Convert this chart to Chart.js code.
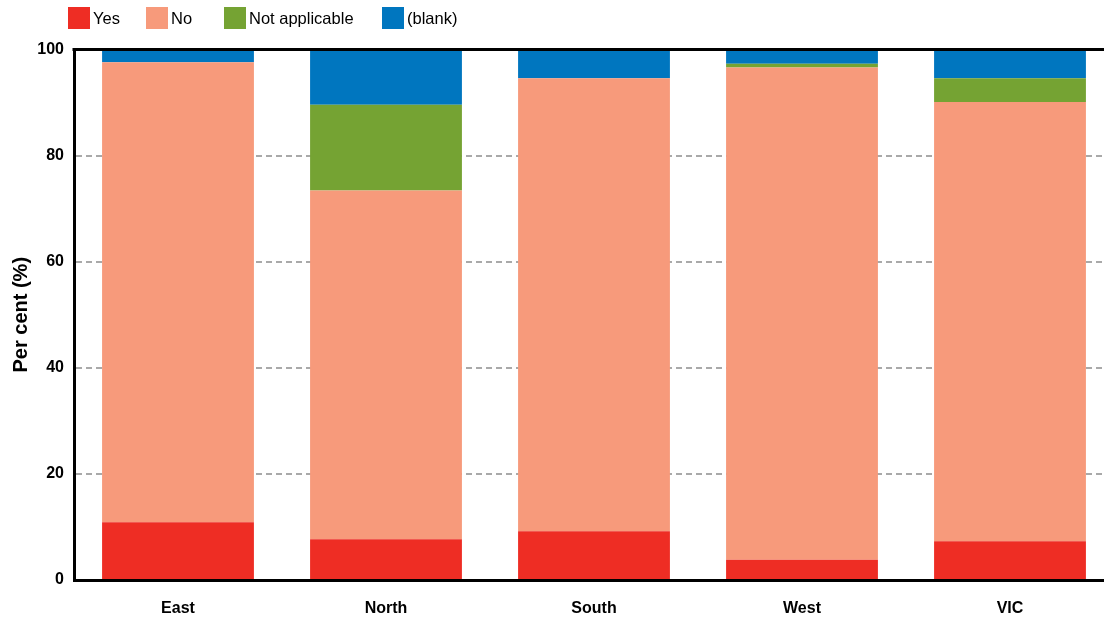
<!DOCTYPE html>
<html lang="en">
<head>
<meta charset="utf-8">
<title>Per cent by region</title>
<script src="https://cdn.jsdelivr.net/npm/chart.js@4/dist/chart.umd.min.js"></script>
<style>
  html, body { margin: 0; padding: 0; background: #fff; width: 1104px; height: 619px; overflow: hidden; }
  #wrap { position: absolute; left: 0; top: 0; width: 1114px; height: 619px; }
  #legend { position: absolute; left: 68px; top: 7px; display: flex; font: 16.5px "Liberation Sans", Arial, sans-serif; color: #000; }
  #legend .item { display: flex; align-items: center; height: 22px; white-space: nowrap; }
  #legend .item:nth-child(1) { width: 78px; }
  #legend .item:nth-child(2) { width: 78px; }
  #legend .item:nth-child(3) { width: 158px; }
  #legend .swatch { display: inline-block; width: 22px; height: 22px; margin-right: 3px; }
</style>
</head>
<body>
<div id="wrap">
  <canvas id="chart" width="1114" height="619"></canvas>
  <div id="legend"></div>
</div>
<script>
// Regions along the x axis
const categories = ['East', 'North', 'South', 'West', 'VIC'];
const seriesNames = ['Yes', 'No', 'Not applicable', '(blank)'];

// Per cent of responses in each region
const yesValues = [10.9, 7.7, 9.2, 3.8, 7.3];
const noValues = [86.7, 65.7, 85.4, 92.8, 82.8];
const notApplicableValues = [0, 16.2, 0, 0.7, 4.5];
const blankValues = [2.4, 10.4, 5.4, 2.7, 5.4];

// Y axis ticks
const yTicks = [0, 20, 40, 60, 80, 100];

const seriesColors = ['#EE2D24', '#F79A7B', '#75A333', '#0076BF'];
const fontFamily = '"Liberation Sans", Arial, Helvetica, sans-serif';

Chart.defaults.font.family = fontFamily;
Chart.defaults.color = '#000';

// Solid rule along the top of the plot area
const topRule = {
  id: 'topRule',
  afterDatasetsDraw(chart) {
    const { ctx, chartArea } = chart;
    const y = chart.scales.y.getPixelForValue(yTicks[yTicks.length - 1]);
    ctx.save();
    ctx.strokeStyle = '#000';
    ctx.lineWidth = 3;
    ctx.beginPath();
    ctx.moveTo(chartArea.left - 1.5, y);
    ctx.lineTo(chart.width, y);
    ctx.stroke();
    ctx.restore();
  }
};

const valueSets = [yesValues, noValues, notApplicableValues, blankValues];

const chart = new Chart(document.getElementById('chart'), {
  type: 'bar',
  data: {
    labels: categories,
    datasets: valueSets.map((values, i) => ({
      label: seriesNames[i],
      data: values,
      backgroundColor: seriesColors[i],
      borderWidth: 0,
      categoryPercentage: 1,
      barPercentage: 0.73
    }))
  },
  options: {
    responsive: false,
    animation: false,
    layout: { padding: { top: 49.5, left: 0, right: 0, bottom: 0 } },
    plugins: {
      legend: { display: false },
      tooltip: { enabled: false }
    },
    scales: {
      x: {
        stacked: true,
        afterFit(scale) { scale.height = 39; },
        grid: { display: false },
        border: { display: true, color: '#000', width: 3 },
        ticks: { padding: 11, color: '#000', font: { size: 16, weight: 'bold' } }
      },
      y: {
        stacked: true,
        min: yTicks[0],
        max: yTicks[yTicks.length - 1],
        afterFit(scale) { scale.width = 74; },
        afterBuildTicks(scale) { scale.ticks = yTicks.map(v => ({ value: v })); },
        ticks: { padding: 10, color: '#000', font: { size: 16, weight: 'bold' } },
        grid: {
          drawTicks: false,
          lineWidth: 2,
          color: (ctx) => {
            const v = ctx.tick ? ctx.tick.value : null;
            return (v === yTicks[0] || v === yTicks[yTicks.length - 1]) ? 'rgba(0,0,0,0)' : '#a9a9a9';
          }
        },
        border: { display: true, color: '#000', width: 3, dash: [6, 4] },
        title: {
          display: true,
          text: 'Per cent (%)',
          color: '#000',
          padding: { top: 9, bottom: 0 },
          font: { size: 20, weight: 'bold' }
        }
      }
    }
  },
  plugins: [topRule]
});

// Legend built from the chart's datasets
const legendEl = document.getElementById('legend');
chart.data.datasets.forEach(ds => {
  const item = document.createElement('span');
  item.className = 'item';
  const swatch = document.createElement('span');
  swatch.className = 'swatch';
  swatch.style.background = ds.backgroundColor;
  const text = document.createElement('span');
  text.textContent = ds.label;
  item.appendChild(swatch);
  item.appendChild(text);
  legendEl.appendChild(item);
});
</script>
</body>
</html>
